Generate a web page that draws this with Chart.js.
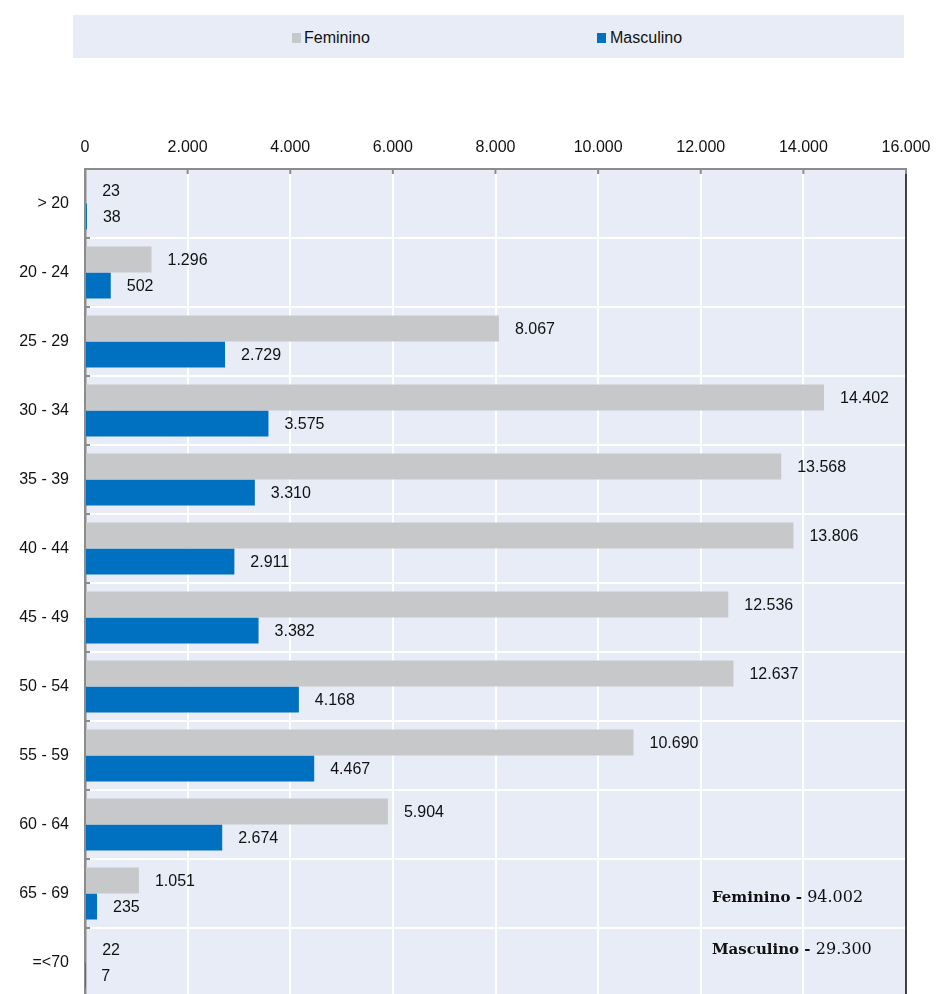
<!DOCTYPE html>
<html lang="pt">
<head>
    <meta charset="UTF-8">
    <title>Faixa etária por sexo</title>
    <script src="https://cdn.jsdelivr.net/npm/chart.js"></script>
    <style>
        html, body { margin: 0; padding: 0; background: #fff; overflow: hidden; }
        body { width: 936px; height: 994px; position: relative; font-family: "Liberation Sans", Arial, sans-serif; }
        .legend { position: absolute; left: 73px; top: 15px; width: 831px; height: 43px; background: #e8ecf7; }
        .legend .sq { position: absolute; top: 18px; width: 9px; height: 10px; }
        .legend .txt { position: absolute; top: 13px; font-size: 16px; line-height: 19px; color: #111; }
        .wrap { position: absolute; left: 0; top: 0; width: 936px; height: 997px; }
    </style>
</head>
<body>

    <!-- legenda -->
    <div class="legend">
        <span class="sq" style="left:219px;background:#c7c8ca"></span>
        <span class="txt" style="left:231px">Feminino</span>
        <span class="sq" style="left:524px;background:#0070c0"></span>
        <span class="txt" style="left:537px">Masculino</span>
    </div>

    <div class="wrap">
        <canvas id="faixaChart" width="936" height="997"></canvas>
    </div>

    <script>
// dados da figura
const faixas = ['> 20', '20 - 24', '25 - 29', '30 - 34', '35 - 39', '40 - 44', '45 - 49', '50 - 54', '55 - 59', '60 - 64', '65 - 69', '=<70'];
const feminino = [23, 1296, 8067, 14402, 13568, 13806, 12536, 12637, 10690, 5904, 1051, 22];
const masculino = [38, 502, 2729, 3575, 3310, 2911, 3382, 4168, 4467, 2674, 235, 7];
const xTicks = [0, 2000, 4000, 6000, 8000, 10000, 12000, 14000, 16000];
const totais = ['Feminino - ', '94.002', 'Masculino - ', '29.300'];

const fundo = '#e8ecf7';
const cinzaEixo = '#8c8c8c';

// 12345 -> 12.345
function fmt(v) {
    return String(v).replace(/\B(?=(\d{3})+(?!\d))/g, '.');
}

// fundo da área do gráfico
const fundoPlugin = {
    id: 'fundo',
    beforeDraw(chart) {
        const a = chart.chartArea;
        const ctx = chart.ctx;
        ctx.save();
        ctx.fillStyle = fundo;
        ctx.fillRect(a.left, a.top, a.right - a.left, a.bottom - a.top);
        ctx.restore();
    }
};

// marcas pequenas, borda direita, rótulos e totais
const extrasPlugin = {
    id: 'extras',
    afterDraw(chart) {
        const a = chart.chartArea;
        const ctx = chart.ctx;
        const xs = chart.scales.x;
        const ys = chart.scales.y;
        ctx.save();

        // borda direita
        ctx.strokeStyle = '#000';
        ctx.lineWidth = 1.5;
        ctx.beginPath();
        ctx.moveTo(a.right, a.top);
        ctx.lineTo(a.right, a.bottom);
        ctx.stroke();

        // marcas internas
        ctx.strokeStyle = cinzaEixo;
        ctx.lineWidth = 2;
        xTicks.forEach(t => {
            const px = xs.getPixelForValue(t);
            ctx.beginPath();
            ctx.moveTo(px, a.top);
            ctx.lineTo(px, a.top + 5);
            ctx.stroke();
        });
        const passo = ys.getPixelForValue(1) - ys.getPixelForValue(0);
        for (let i = 0; i <= faixas.length; i++) {
            const py = ys.getPixelForValue(i) - passo / 2;
            ctx.beginPath();
            ctx.moveTo(a.left, py);
            ctx.lineTo(a.left + 5, py);
            ctx.stroke();
        }

        // rótulos das barras
        ctx.fillStyle = '#111';
        ctx.font = '16px "Liberation Sans", Arial, sans-serif';
        ctx.textAlign = 'left';
        ctx.textBaseline = 'middle';
        chart.data.datasets.forEach((ds, di) => {
            chart.getDatasetMeta(di).data.forEach((bar, i) => {
                ctx.fillText(fmt(ds.data[i]), bar.x + 16, bar.y + 1);
            });
        });

        // totais
        const tx = a.right - 194;
        const linhas = [[totais[0], totais[1], a.bottom - 99], [totais[2], totais[3], a.bottom - 47]];
        linhas.forEach(l => {
            ctx.font = 'bold 15px "DejaVu Serif", serif';
            ctx.fillText(l[0], tx, l[2]);
            const w = ctx.measureText(l[0]).width;
            ctx.font = '16px "DejaVu Serif", serif';
            ctx.fillText(l[1], tx + w, l[2]);
        });

        ctx.restore();
    }
};

const ctx = document.getElementById('faixaChart').getContext('2d');
const chart = new Chart(ctx, {
    type: 'bar',
    data: {
        labels: faixas,
        datasets: [
            {
                label: 'Feminino',
                data: feminino,
                backgroundColor: '#c7c8ca',
                categoryPercentage: 0.754,
                barPercentage: 1
            },
            {
                label: 'Masculino',
                data: masculino,
                backgroundColor: '#0070c0',
                categoryPercentage: 0.754,
                barPercentage: 1
            }
        ]
    },
    options: {
        indexAxis: 'y',
        responsive: false,
        maintainAspectRatio: false,
        animation: false,
        layout: { padding: { left: 0, right: 30, top: 0, bottom: 0 } },
        plugins: {
            legend: { display: false },
            tooltip: { enabled: false }
        },
        scales: {
            x: {
                position: 'top',
                min: 0,
                max: 16000,
                afterFit(s) { s.height = 169; s.paddingLeft = 0; s.paddingRight = 0; },
                afterBuildTicks(s) { s.ticks = xTicks.map(v => ({ value: v })); },
                ticks: {
                    padding: 12,
                    color: '#111',
                    font: { family: '"Liberation Sans", Arial, sans-serif', size: 16 },
                    callback: v => fmt(v)
                },
                grid: { color: '#ffffff', lineWidth: 2, drawTicks: false },
                border: { display: true, color: cinzaEixo, width: 2 }
            },
            y: {
                afterFit(s) { s.width = 85; s.paddingTop = 0; s.paddingBottom = 0; },
                ticks: {
                    padding: 16,
                    color: '#111',
                    font: { family: '"Liberation Sans", Arial, sans-serif', size: 16 }
                },
                grid: { color: '#ffffff', lineWidth: 2, drawTicks: false, offset: true },
                border: { display: true, color: cinzaEixo, width: 2.5 }
            }
        }
    },
    plugins: [fundoPlugin, extrasPlugin]
});
    </script>
</body>
</html>
